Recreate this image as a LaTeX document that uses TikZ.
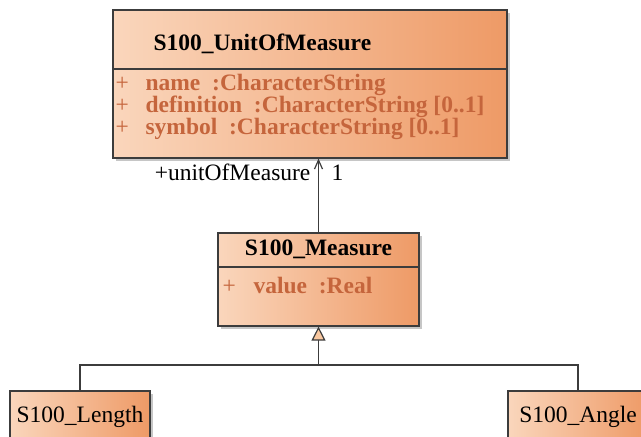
\documentclass[tikz,border=0pt]{standalone}
\usepackage{fontspec}
\setmainfont{Liberation Serif}
\usetikzlibrary{shadows,arrows.meta}
\definecolor{camnhat}{RGB}{250,214,188}
\definecolor{camdam}{RGB}{238,154,102}
\definecolor{camtg}{RGB}{249,200,160}
\definecolor{nau}{RGB}{197,101,60}
\definecolor{vien}{RGB}{60,60,60}
\newcommand{\cochu}{\fontsize{23.5}{28}\selectfont}
\begin{document}
\begin{tikzpicture}[x=1pt,y=-1pt,>={Straight Barb[length=9pt,width=8pt]},
	line width=1.2pt,
	lop/.style={draw=vien,left color=camnhat,right color=camdam,inner sep=0pt,
		drop shadow={shadow xshift=3pt,shadow yshift=-3pt,opacity=0.45}},
	chu/.style={inner sep=0pt,font=\cochu,anchor=base west},
	tieude/.style={chu,font=\cochu\bfseries},
	dau/.style={chu,text=nau},
	thuoctinh/.style={chu,font=\cochu\bfseries,text=nau}]
	\useasboundingbox (0,0) rectangle (641,437);
	% Vẽ các lớp
	\node[lop,minimum width=394pt,minimum height=148pt] (unit) at (310,84) {};
	\node[lop,minimum width=201pt,minimum height=93pt] (measure) at (318.5,279.5) {};
	\node[lop,minimum width=140pt,minimum height=60pt] (length) at (80,421) {};
	\node[lop,minimum width=140pt,minimum height=60pt] (angle) at (578,421) {};
	\draw[vien] (unit.west |- 0,69) -- (unit.east |- 0,69);
	\draw[vien] (measure.west |- 0,267) -- (measure.east |- 0,267);
	% Tên lớp và thuộc tính
	\node[tieude] (unitten) at (153,50) {S100\_UnitOfMeasure};
	\foreach \ma/\y/\noidung in {ten/90/{name~~:CharacterString},
		dinhnghia/112/{definition~~:CharacterString [0..1]},
		kyhieu/134/{symbol~~:CharacterString [0..1]}}
	{
		\node[dau] (cong\ma) at (115,\y) {+};
		\node[thuoctinh] (\ma) at (145,\y) {\noidung};
	}
	\node[tieude,anchor=base] (measureten) at (318.5,255) {S100\_Measure};
	\node[dau] (congvalue) at (222,293) {+};
	\node[thuoctinh] (value) at (253,293) {value~~:Real};
	\node[chu,anchor=base] (lengthten) at (length.north |- 0,422) {S100\_Length};
	\node[chu,anchor=base] (angleten) at (angle.north |- 0,422) {S100\_Angle};
	% Vẽ các đường nối
	\draw[->,vien] (measure.north) -- (measure.north |- unit.south);
	\node[chu,anchor=base east] (vaitro) at (311,180) {+unitOfMeasure};
	\node[chu] (boso) at (331,180) {1};
	\coordinate (re) at (measure.south |- 0,365);
	\draw[vien,-{Triangle[length=14pt,width=14pt,fill=camtg]}] (re) -- (measure.south);
	\draw[vien] (length.north) |- (re) -| (angle.north);
\end{tikzpicture}
\end{document}
